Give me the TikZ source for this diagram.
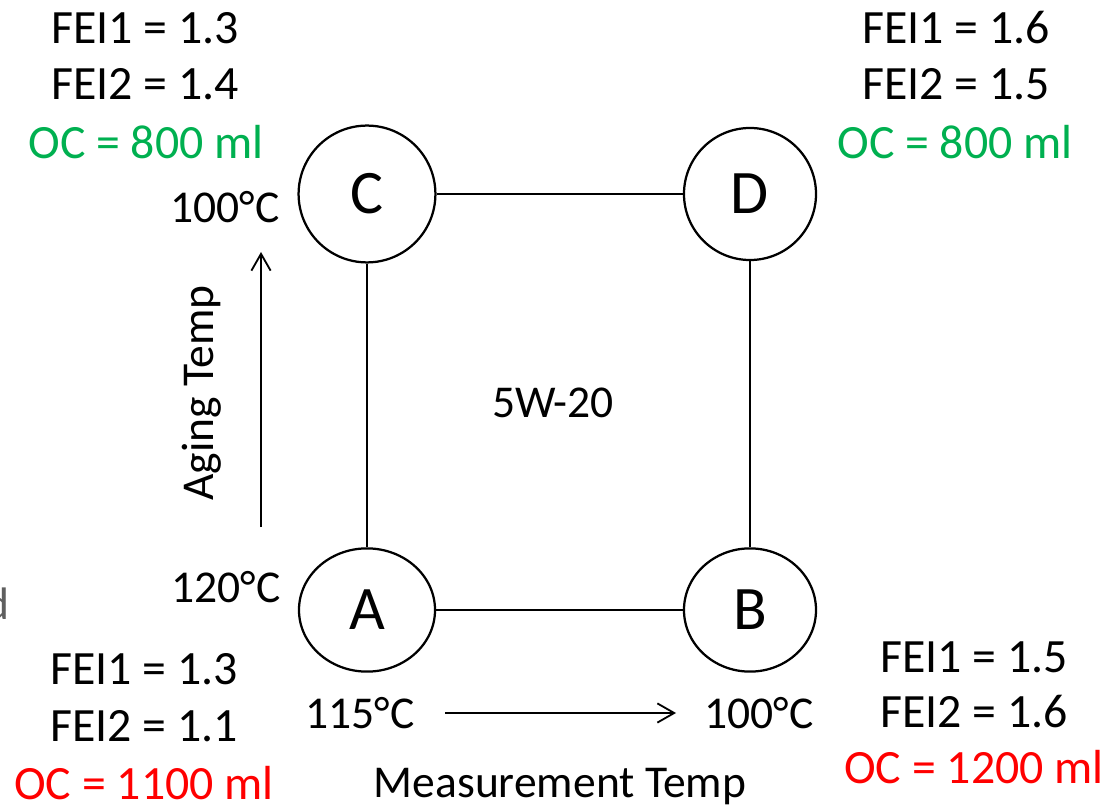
\documentclass[tikz,border=0pt]{standalone}
\usepackage{fontspec}
\setmainfont{Carlito}
\usetikzlibrary{positioning,arrows.meta,shapes.geometric}
\definecolor{ocgreen}{RGB}{0,176,80}
\definecolor{ocred}{RGB}{255,0,0}
\definecolor{cutgrey}{RGB}{95,95,95}
\tikzset{
  corner/.style={circle,draw=black,line width=1.6pt,inner sep=0pt,font=\fontsize{44}{50}\selectfont},
  flatcorner/.style={ellipse,draw=black,line width=1.6pt,inner sep=0pt,minimum width=3.4cm,minimum height=3.08cm,font=\fontsize{44}{50}\selectfont},
  val/.style={font=\fontsize{32.4}{39}\selectfont,inner sep=0pt},
  score/.style={font=\fontsize{34}{40}\selectfont,inner sep=0pt},
  link/.style={line width=1.3pt},
  axis/.style={-{Straight Barb[length=4.2mm,width=4.8mm]},line width=1.3pt}
}

\begin{document}
\begin{tikzpicture}[x=0.025cm,y=-0.025cm]
  \useasboundingbox (0,0) rectangle (1119,807);
  % corners of the square
  \node[corner,minimum size=3.42cm] (C) at (367,194) {C};
  \node[corner,minimum size=3.3cm] (D) at (750,194) {D};
  \node[flatcorner] (A) at (367,610) {A};
  \node[flatcorner,minimum width=3.3cm] (B) at (750,610) {B};
  \draw[link] (C) -- (D);
  \draw[link] (A) -- (B);
  \draw[link] (A) -- (C);
  \draw[link] (B) -- (D);
  \node[val] (oil) at (553,403) {5W-20};
  % values at each corner
  \node[score] (tlfa) at (145,28) {FEI1 = 1.3};
  \node[score] (tlfb) at (145,84) {FEI2 = 1.4};
  \node[score,text=ocgreen] (tloc) at (146,142) {OC = 800 ml};
  \node[score] (trfa) at (956,28) {FEI1 = 1.6};
  \node[score] (trfb) at (956,84) {FEI2 = 1.5};
  \node[score,text=ocgreen] (troc) at (955,142) {OC = 800 ml};
  \node[score] (blfa) at (144,669) {FEI1 = 1.3};
  \node[score] (blfb) at (144,726) {FEI2 = 1.1};
  \node[score,text=ocred] (bloc) at (144,783) {OC = 1100 ml};
  \node[score] (brfa) at (974,657) {FEI1 = 1.5};
  \node[score] (brfb) at (974,712) {FEI2 = 1.6};
  \node[score,text=ocred] (broc) at (974,767) {OC = 1200 ml};
  % temperatures
  \node[val] (agehi) at (225,207) {100°C};
  \node[val] (agelo) at (226,587) {120°C};
  \node[val] (meashi) at (360,713) {115°C};
  \node[val] (measlo) at (759,713) {100°C};
  \coordinate (mt0) at (445,713);
  \coordinate (mt1) at (676,713);
  \draw[axis] (mt0) -- (mt1);
  \coordinate (at0) at (261,527);
  \coordinate (at1) at (261,252);
  \draw[axis] (at0) -- (at1);
  \node[val,anchor=base] (mlabel) at (560,797) {Measurement Temp};
  \node[val,anchor=base,rotate=90] (alabel) at (213,393) {Aging Temp};
  \node[val,text=cutgrey,anchor=base east] (cut) at (10,619) {d};
\end{tikzpicture}
\end{document}
